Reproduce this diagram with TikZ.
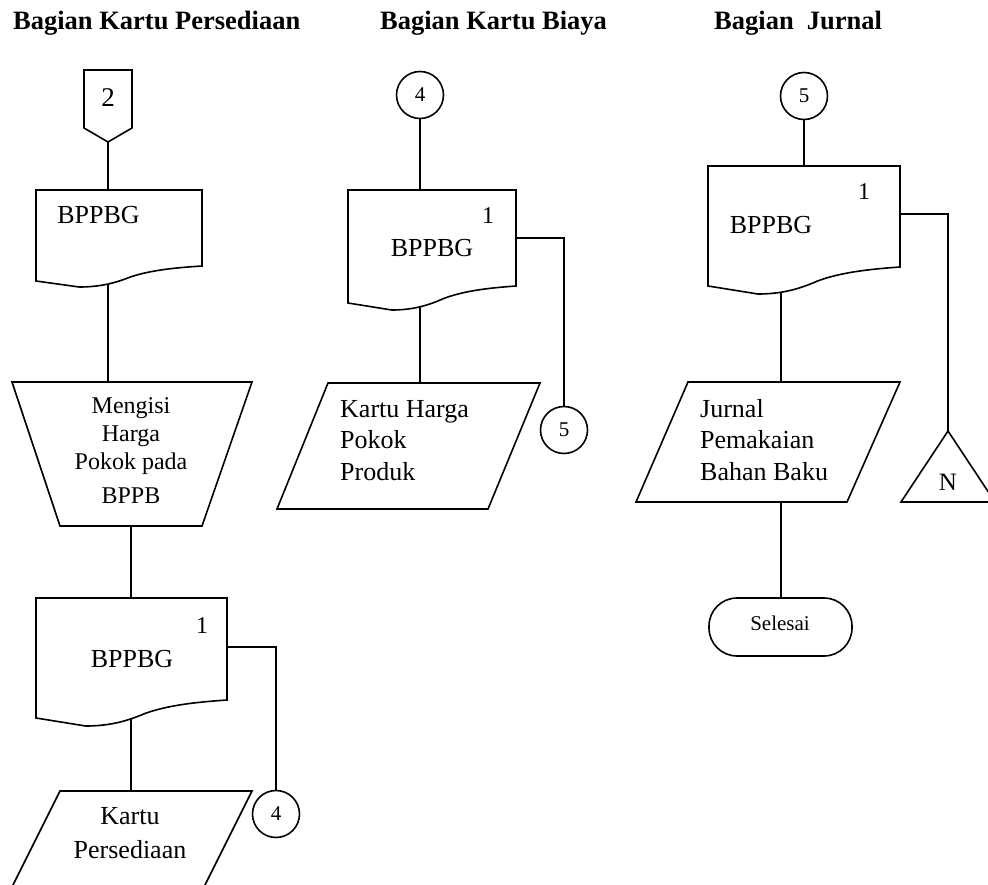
\documentclass[tikz,border=0pt]{standalone}
\usepackage{fontspec}
\setmainfont{Liberation Serif}
\begin{document}
\begin{tikzpicture}[x=1pt,y=-1pt,
  shp/.style={draw=black,fill=white,line width=1.6pt,line join=miter},
  ln/.style={draw=black,line width=1.6pt},
  ttl/.style={inner sep=0pt,anchor=base west,font=\fontsize{26.5}{30}\selectfont\bfseries},
  txt/.style={inner sep=0pt,anchor=base,font=\fontsize{26}{30}\selectfont},
  txtl/.style={txt,anchor=base west},
  small/.style={inner sep=0pt,anchor=base,font=\fontsize{21}{24}\selectfont},
  conn/.style={circle,draw=black,fill=white,line width=1.6pt,minimum size=47pt,inner sep=0pt,font=\fontsize{21}{24}\selectfont}]
% document symbol: left, right, top, right-bottom, left-bottom, lowest point of the wave
\newcommand\docshape[6]{%
  \pgfmathsetmacro\docW{#2-#1}%
  \pgfmathsetmacro\docD{#6-#4}%
  \draw[shp] (#1,#3) -- (#2,#3) -- (#2,#4)
    .. controls ({#2-0.16*\docW},{#4+0.08*\docD}) and ({#2-0.31*\docW},{#4+0.2*\docD})
    .. ({#2-0.43*\docW},{#4+0.52*\docD})
    .. controls ({#2-0.52*\docW},{#4+0.8*\docD}) and ({#2-0.61*\docW},#6)
    .. ({#1+0.26*\docW},#6) -- (#1,#5) -- cycle;}
\clip (0,0) rectangle (988,885);

% ---------- headings ----------
\node[ttl] (h1) at (13,29.5) {Bagian Kartu Persediaan};
\node[ttl] (h2) at (380,29.5) {Bagian Kartu Biaya};
\node[ttl] (h3) at (714,29.5) {Bagian\ \ Jurnal};

% ---------- anchor points of the flow ----------
% column 1
\coordinate (o2b) at (108,142);
\coordinate (d1t) at (108,190);
\coordinate (d1b) at (108,280);
\coordinate (m1t) at (108,382);
\coordinate (m1b) at (131,526);
\coordinate (d2t) at (131,598);
\coordinate (d2r) at (227,647);
\coordinate (d2b) at (131,715);
\coordinate (p1t) at (131,791);
% column 2
\coordinate (d3t) at (420,190);
\coordinate (d3r) at (516,238);
\coordinate (d3b) at (420,300);
\coordinate (p2t) at (420,383);
% column 3
\coordinate (d4t) at (804,166);
\coordinate (d4r) at (900,214);
\coordinate (d4b) at (781,284);
\coordinate (p3t) at (781,382);
\coordinate (p3b) at (781,502);
\coordinate (ntop) at (948,431);
\coordinate (endt) at (781,598);

% ---------- connectors ----------
\draw[ln] (o2b) -- (d1t);
\draw[ln] (d1b) -- (m1t);
\draw[ln] (m1b) -- (d2t);
\draw[ln] (d2b) -- (p1t);
\draw[ln] (d3b) -- (p2t);
\draw[ln] (d4b) -- (p3t);
\draw[ln] (p3b) -- (endt);
\draw[ln] (d4r) -| (ntop);

% ---------- column 1: Bagian Kartu Persediaan ----------
\draw[shp] (84,70) -- (132,70) -- (132,128) -- (108,142) -- (84,128) -- cycle;
\node[txt,font=\fontsize{27}{30}\selectfont] (l2) at (108,107) {2};

\docshape{36}{202}{190}{266}{281}{287}
\node[txt] (d1x) at (98.5,224) {BPPBG};

\draw[shp] (12,382) -- (252,382) -- (202,526) -- (60,526) -- cycle;
\node[txt,font=\fontsize{24}{28}\selectfont] (m1a) at (131,413) {Mengisi};
\node[txt,font=\fontsize{24}{28}\selectfont] (m1c) at (131,441) {Harga};
\node[txt,font=\fontsize{24}{28}\selectfont] (m1d) at (131,469) {Pokok pada};
\node[txt,font=\fontsize{24}{28}\selectfont] (m1e) at (131,503) {BPPB};

\docshape{36}{227}{598}{700}{718}{726}
\node[txt,font=\fontsize{24}{28}\selectfont] (d2n) at (202,633) {1};
\node[txt] (d2x) at (132,667) {BPPBG};

\draw[shp] (60,791) -- (252,791) -- (197.5,900) -- (5.5,900) -- cycle;
\node[txt] (p1a) at (130,824) {Kartu};
\node[txt] (p1b) at (130,858) {Persediaan};

\node[conn] (k4) at (276,814) {4};
\draw[ln] (d2r) -| (k4.north);

% ---------- column 2: Bagian Kartu Biaya ----------
\node[conn] (k4b) at (420,95) {4};
\draw[ln] (k4b.south) -- (d3t);

\docshape{348}{516}{190}{286}{303}{310}
\node[txt,font=\fontsize{24}{28}\selectfont] (d3n) at (488,224) {1};
\node[txt] (d3x) at (432,257) {BPPBG};

\draw[shp] (328,383) -- (540,383) -- (488,509) -- (277,509) -- cycle;
\node[txtl] (p2a) at (340,417) {Kartu Harga};
\node[txtl] (p2b) at (340,448) {Pokok};
\node[txtl] (p2c) at (340,480) {Produk};

\node[conn] (k5) at (564,430) {5};
\draw[ln] (d3r) -| (k5.north);

% ---------- column 3: Bagian Jurnal ----------
\node[conn] (k5b) at (804,96) {5};
\draw[ln] (k5b.south) -- (d4t);

\docshape{708}{900}{166}{267}{286}{294}
\node[txt,font=\fontsize{24}{28}\selectfont] (d4n) at (864,200) {1};
\node[txt] (d4x) at (771,234) {BPPBG};

\draw[shp] (688,382) -- (900,382) -- (847,502) -- (636,502) -- cycle;
\node[txtl] (p3a) at (700,417) {Jurnal};
\node[txtl] (p3b2) at (700,448) {Pemakaian};
\node[txtl] (p3c) at (700,480) {Bahan Baku};

\draw[shp] (ntop) -- (995,502) -- (901,502) -- cycle;
\node[txt,font=\fontsize{25}{28}\selectfont] (nN) at (948,490) {N};

\draw[shp,rounded corners=28pt] (709,598) rectangle (852,656);
\node[small] (sel) at (780,630) {Selesai};
\end{tikzpicture}
\end{document}
